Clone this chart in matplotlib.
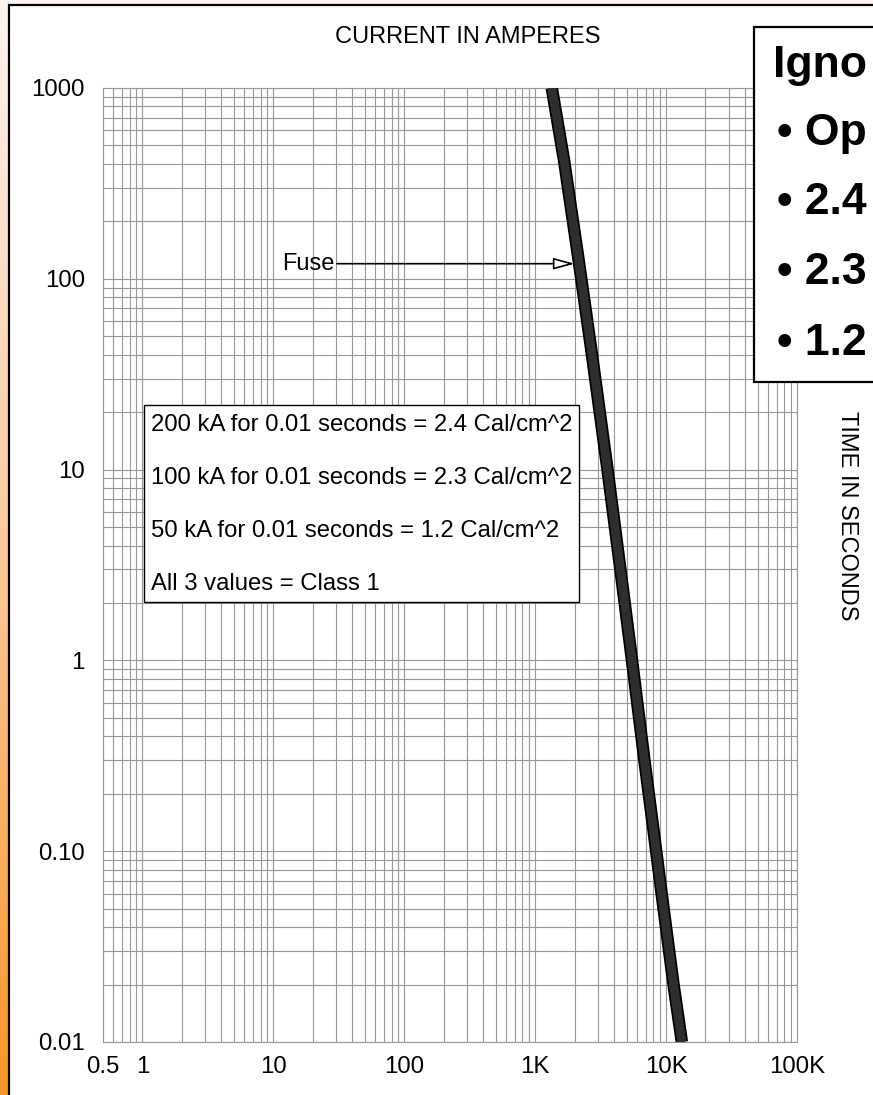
"""
Fuse time-current curve (log-log) with arc-flash notes, redrawn from the slide.
    python plot.py  -> out.png
"""
import numpy as np
import matplotlib
matplotlib.use("Agg")
import matplotlib.pyplot as plt
from matplotlib.patches import Rectangle
from matplotlib.colors import LinearSegmentedColormap
from matplotlib.ticker import FixedLocator, FixedFormatter, LogLocator, NullFormatter

plt.rcParams["font.family"] = ["Liberation Sans", "DejaVu Sans"]

W, H = 873, 1095  # output size in pixels (dpi 100)

# fuse curve: current (A) vs clearing time (s)
fuse_amps = [1340, 1660, 2160, 2730, 3570, 4690, 5490, 6830, 8010, 9570, 11400, 13200]
fuse_secs = [1000, 420, 122, 39, 10, 2.34, 1, 0.3, 0.129, 0.05, 0.02, 0.01]

x_ticks = [0.5, 1, 10, 100, 1e3, 1e4, 1e5]
x_labels = ["0.5", "1", "10", "100", "1K", "10K", "100K"]
y_ticks = [0.01, 0.1, 1, 10, 100, 1000]
y_labels = ["0.01", "0.10", "1", "10", "100", "1000"]

fuse_label = "Fuse"
fuse_arrow_at = (2000, 120)
fuse_text_at = (11.6, 120)

note_lines = [
    "200 kA for 0.01 seconds = 2.4 Cal/cm^2",
    "100 kA for 0.01 seconds = 2.3 Cal/cm^2",
    "50 kA for 0.01 seconds = 1.2 Cal/cm^2",
    "All 3 values = Class 1",
]
# the call-out box is cut by the slide edge; only these parts are visible
side_heading = "Igno"
side_bullets = ["\u2022 Op", "\u2022 2.4", "\u2022 2.3", "\u2022 1.2"]


def fx(px):
    return px / W


def fy(py):
    return 1 - py / H


fig = plt.figure(figsize=(W / 100, H / 100), dpi=100)

# slide background: pale peach at top fading to orange at the bottom
bg = fig.add_axes([0, 0, 1, 1], zorder=-2)
grad = np.linspace(0, 1, 256).reshape(-1, 1)
cmap = LinearSegmentedColormap.from_list("slide", ["#f7962a", "#fbc99c", "#fdf3ef"])
bg.imshow(grad, aspect="auto", extent=[0, 1, 0, 1], origin="lower", cmap=cmap)
bg.axis("off")

# white sheet with black frame
fig.patches.append(Rectangle((fx(9), -0.05), 1.2, fy(5) + 0.05, transform=fig.transFigure,
                             fc="white", ec="black", lw=1.6, zorder=-1))

ax = fig.add_axes([fx(103), fy(1042), fx(797) - fx(103), fy(88) - fy(1042)])
ax.set_xscale("log"); ax.set_yscale("log")
ax.set_xlim(0.5, 1e5); ax.set_ylim(0.01, 1000)
ax.xaxis.set_major_locator(FixedLocator(x_ticks))
ax.xaxis.set_major_formatter(FixedFormatter(x_labels))
ax.yaxis.set_major_locator(FixedLocator(y_ticks))
ax.yaxis.set_major_formatter(FixedFormatter(y_labels))
for a in (ax.xaxis, ax.yaxis):
    a.set_minor_locator(LogLocator(base=10, subs=np.arange(2, 10), numticks=30))
    a.set_minor_formatter(NullFormatter())
ax.grid(which="both", color="#979797", lw=0.8)
ax.tick_params(which="both", length=0, labelsize=17.3)
ax.tick_params(axis="y", pad=13)
ax.tick_params(axis="x", pad=10)
for s in ax.spines.values():
    s.set_color("#979797"); s.set_linewidth(0.8)

ax.plot(fuse_amps, fuse_secs, color="black", lw=9, solid_capstyle="butt",
        solid_joinstyle="round", zorder=3)
ax.plot(fuse_amps, fuse_secs, color="#2e2e2e", lw=6.5, solid_capstyle="butt",
        solid_joinstyle="round", zorder=3)

ax.annotate(fuse_label, xy=fuse_arrow_at, xytext=fuse_text_at, ha="left", va="center",
            fontsize=17, zorder=4,
            arrowprops=dict(arrowstyle="-|>,head_length=0.8,head_width=0.22", mutation_scale=16,
                            fc="white", ec="black", lw=1.2, shrinkA=0, shrinkB=0))

fig.text(fx(468), fy(37), "CURRENT IN AMPERES", ha="center", va="center", fontsize=17)
fig.text(fx(847), fy(516), "TIME IN SECONDS", ha="center", va="center", rotation=270, fontsize=17)

# note box on the chart
fig.patches.append(Rectangle((fx(144), fy(602)), fx(579) - fx(144), fy(405) - fy(602),
                             transform=fig.transFigure, fc="white", ec="black", lw=1.0, zorder=4))
for i, line in enumerate(note_lines):
    fig.text(fx(151), fy(425 + 53 * i), line, ha="left", va="center", fontsize=17.2, zorder=5)

# call-out box running off the right edge
fig.patches.append(Rectangle((fx(754), fy(382)), 0.3, fy(27) - fy(382),
                             transform=fig.transFigure, fc="white", ec="black", lw=1.6, zorder=4))
fig.text(fx(773), fy(65), side_heading, ha="left", va="center", fontsize=32,
         fontweight="bold", zorder=5)
for i, b in enumerate(side_bullets):
    fig.text(fx(777), fy(133 + 70 * i), b, ha="left", va="center", fontsize=32,
             fontweight="bold", zorder=5)

fig.savefig("out.png", dpi=100)
print("wrote out.png")
